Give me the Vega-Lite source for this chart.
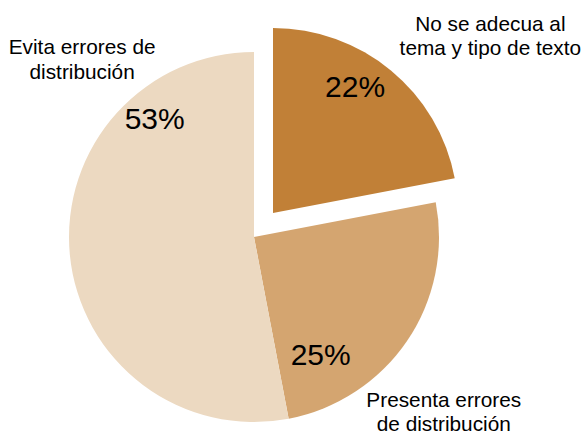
{
  "$schema": "https://vega.github.io/schema/vega-lite/v6.json",
  "width": 508,
  "height": 396,
  "autosize": {"type": "none"},
  "padding": {"left": 0, "top": 39, "right": 75, "bottom": 0},
  "background": "white",
  "config": {"view": {"stroke": null}, "text": {"font": "Liberation Sans"}},
  "data": {
    "values": [
      {"categoria": "No se adecua al\ntema y tipo de texto", "valor": 22, "etiqueta": "22%"},
      {"categoria": "Presenta errores\nde distribución", "valor": 25, "etiqueta": "25%"},
      {"categoria": "Evita errores de\ndistribución", "valor": 53, "etiqueta": "53%"}
    ]
  },
  "encoding": {
    "theta": {"field": "valor", "type": "quantitative", "stack": true},
    "order": {"field": "valor", "type": "quantitative", "sort": "ascending"},
    "detail": {"field": "categoria", "type": "nominal"}
  },
  "layer": [
    {
      "mark": {"type": "arc", "outerRadius": 185},
      "encoding": {
        "color": {"field": "categoria", "type": "nominal", "legend": null,
          "scale": {"domain": ["No se adecua al\ntema y tipo de texto", "Presenta errores\nde distribución", "Evita errores de\ndistribución"],
                    "range": ["#C18037", "#D4A570", "#ECD9C1"]}},
        "opacity": {"condition": {"test": "datum.valor === 22", "value": 0}, "value": 1}
      }
    },
    {
      "mark": {"type": "arc", "outerRadius": 185, "xOffset": 19, "yOffset": -24},
      "encoding": {
        "color": {"field": "categoria", "type": "nominal", "legend": null,
          "scale": {"domain": ["No se adecua al\ntema y tipo de texto", "Presenta errores\nde distribución", "Evita errores de\ndistribución"],
                    "range": ["#C18037", "#D4A570", "#ECD9C1"]}},
        "opacity": {"condition": {"test": "datum.valor === 22", "value": 1}, "value": 0}
      }
    },
    {
      "mark": {"type": "text", "radius": 175, "dx": -10.5, "dy": -14.5, "fontSize": 30, "baseline": "middle", "align": "center", "color": "black"},
      "encoding": {
        "text": {"field": "etiqueta"},
        "opacity": {"condition": {"test": "datum.valor === 22", "value": 1}, "value": 0}
      }
    },
    {
      "mark": {"type": "text", "radius": 135, "dx": -45, "dy": 43.5, "fontSize": 30, "baseline": "middle", "align": "center", "color": "black"},
      "encoding": {
        "text": {"field": "etiqueta"},
        "opacity": {"condition": {"test": "datum.valor === 25", "value": 1}, "value": 0}
      }
    },
    {
      "mark": {"type": "text", "radius": 150, "dx": 50, "dy": -131, "fontSize": 30, "baseline": "middle", "align": "center", "color": "black"},
      "encoding": {
        "text": {"field": "etiqueta"},
        "opacity": {"condition": {"test": "datum.valor === 53", "value": 1}, "value": 0}
      }
    },
    {
      "mark": {"type": "text", "radius": 250, "dx": 77, "dy": -13.5, "fontSize": 20.8, "lineHeight": 24.5, "lineBreak": "\n", "baseline": "alphabetic", "align": "center", "color": "black"},
      "encoding": {
        "text": {"field": "categoria"},
        "opacity": {"condition": {"test": "datum.valor === 22", "value": 1}, "value": 0}
      }
    },
    {
      "mark": {"type": "text", "radius": 250, "dx": -17, "dy": 29, "fontSize": 20.8, "lineHeight": 24.5, "lineBreak": "\n", "baseline": "alphabetic", "align": "center", "color": "black"},
      "encoding": {
        "text": {"field": "categoria"},
        "opacity": {"condition": {"test": "datum.valor === 25", "value": 1}, "value": 0}
      }
    },
    {
      "mark": {"type": "text", "radius": 250, "dx": 77, "dy": -206.5, "fontSize": 20.8, "lineHeight": 24.5, "lineBreak": "\n", "baseline": "alphabetic", "align": "center", "color": "black"},
      "encoding": {
        "text": {"field": "categoria"},
        "opacity": {"condition": {"test": "datum.valor === 53", "value": 1}, "value": 0}
      }
    }
  ]
}
